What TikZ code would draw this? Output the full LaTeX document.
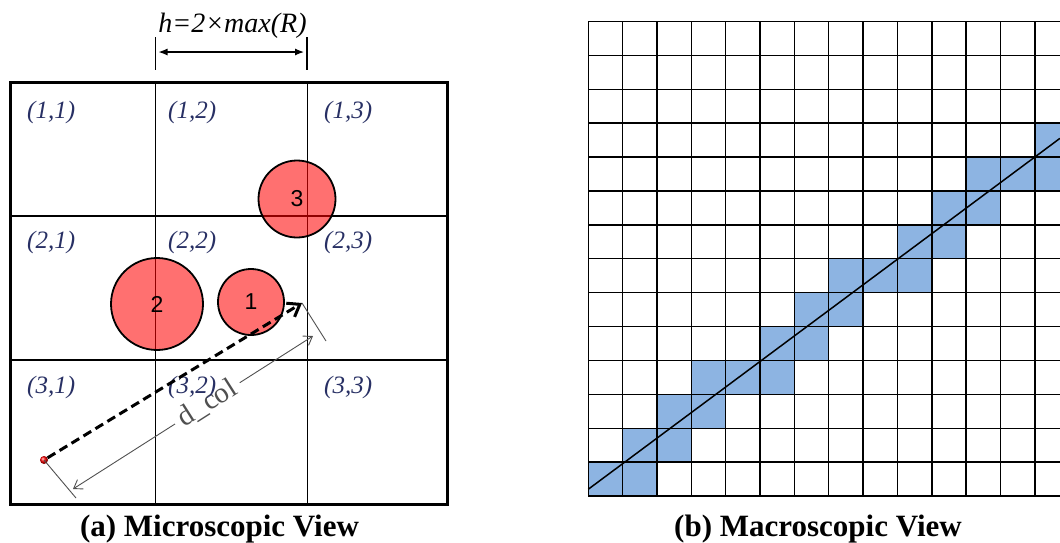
\documentclass[tikz,border=0pt]{standalone}
\usepackage{fontspec}
\setmainfont{Liberation Serif}
\newfontfamily\numfont{Liberation Sans}
\usepackage{tikz}
\usetikzlibrary{calc, arrows.meta}
\usepackage{xcolor}
\definecolor{partred}{RGB}{255, 0, 0}
\definecolor{cellblue}{RGB}{141, 180, 226}
\definecolor{labelnavy}{RGB}{40, 48, 100}
\definecolor{dimgray}{RGB}{80, 80, 80}

\begin{document}
\begin{tikzpicture}[x=1pt, y=-1pt,
  celltxt/.style={font=\fontsize{25}{25}\selectfont\itshape, text=labelnavy, anchor=base west, inner sep=0},
  particle/.style={circle, draw, line width=1.8pt, fill=partred, fill opacity=0.56, text opacity=1, inner sep=0, font=\numfont\fontsize{23}{23}\selectfont},
  caption/.style={font=\fontsize{31}{31}\selectfont\bfseries, anchor=base},
  extline/.style={dimgray, line width=0.9pt},
  dimline/.style={dimgray, line width=0.9pt, {Straight Barb[length=8pt, width=11pt]}-{Straight Barb[length=8pt, width=11pt]}},
  colarrow/.style={line width=3pt, dash pattern=on 9pt off 5pt, -{Straight Barb[length=11pt, width=16pt]}}]
  \useasboundingbox (0,0) rectangle (1060,542);

  % (a) microscopic view: 3x3 cells
  \draw[line width=1.1pt] (155.5,82.5) -- (155.5,504) (307.5,82.5) -- (307.5,504);
  \draw[line width=1.1pt] (10,216) -- (447,216) (10,360) -- (447,360);
  \draw[line width=3pt] (10,82.5) rectangle (447,504);

  % particles
  \node[particle, minimum size=66pt] (p1) at (251,302) {1};
  \node[particle, minimum size=92pt] (p2) at (157,304) {2};
  \node[particle, minimum size=77pt] (p3) at (297,199) {3};

  % cell size h
  \coordinate (hL) at (155.5,52);
  \coordinate (hR) at (307,52);
  \draw[line width=1.1pt] (hL) ++(0,-15) -- ++(0,33);
  \draw[line width=1.1pt] (hR) ++(0,-15) -- ++(0,33);
  \draw[line width=1.2pt, {Latex[length=9pt, width=7pt]}-{Latex[length=9pt, width=7pt]}, shorten <=3pt, shorten >=3pt] (hL) -- (hR);
  \node[font=\fontsize{28}{28}\selectfont\itshape, anchor=base] (hlab) at (232.5,32) {h=2×max(R)};

  % collision distance
  \node[circle, inner sep=0, minimum size=8pt, shading=ball, ball color=red] (src) at (44,460) {};
  \coordinate (tip) at (302,303);
  \coordinate (srcfoot) at (76,498);
  \coordinate (tipfoot) at (326,341);
  \coordinate (dimA) at (73,489);
  \coordinate (dimB) at (313,336);
  \draw[extline] (src.center) -- (srcfoot);
  \draw[extline] (tip) -- (tipfoot);
  \draw[dimline] (dimA) -- node[pos=0.56, sloped, fill=white, inner xsep=6pt, inner ysep=1pt, text=dimgray, font=\fontsize{29}{29}\selectfont] (dcol) {d\_col} (dimB);

  % cell indices
  \foreach \r/\yb in {1/118, 2/248, 3/393}
    \foreach \c/\xl in {1/27, 2/168, 3/324}
      \node[celltxt] (lab\r\c) at (\xl,\yb) {(\r,\c)};
  \draw[colarrow] (src) -- (tip);

  \node[caption] (capa) at (219.5,536) {(a) Microscopic View};

  % (b) macroscopic view: cells crossed by the path
  \begin{scope}[shift={(588.3,496)}, x=34.35pt, y=33.9pt]
    \clip (-0.1,-0.1) rectangle (13.73,14.1);
    \foreach \c/\r in {0/0,1/0,1/1,2/1,2/2,3/2,3/3,4/3,5/3,5/4,6/4,6/5,7/5,7/6,8/6,9/6,9/7,10/7,10/8,11/8,11/9,12/9,13/9,13/10}
      \fill[cellblue] (\c,\r) rectangle ++(1,1);
    \draw[line width=1.4pt, step=1] (0,0) grid (13.73,14);
    \coordinate (lnstart) at (0,0.2);
    \coordinate (lnend) at (13.73,10.55);
    \draw[line width=1.5pt] (lnstart) -- (lnend);
  \end{scope}

  \node[caption] (capb) at (818,536) {(b) Macroscopic View};
\end{tikzpicture}
\end{document}
